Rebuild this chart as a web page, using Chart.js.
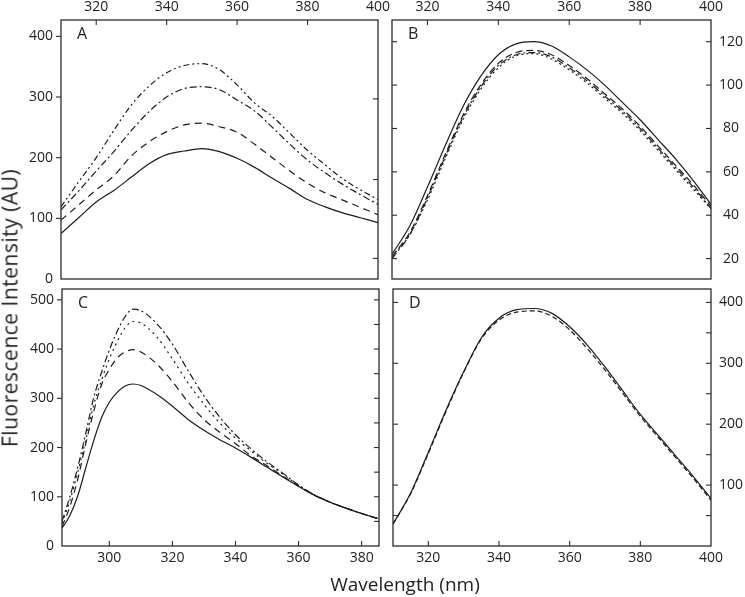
<!DOCTYPE html>
<html><head><meta charset="utf-8">
<script src="https://cdn.jsdelivr.net/npm/chart.js@4/dist/chart.umd.min.js"></script>
<style>
html,body{margin:0;padding:0;background:#fff;}
#wrap{position:relative;width:745px;height:597px;overflow:hidden;background:#fff;}
canvas{position:absolute;left:0;top:0;}
.t{position:absolute;font-family:"Open Sans",sans-serif;font-size:19px;line-height:1;color:#222;white-space:nowrap;}
#yt{left:10px;top:308px;font-size:21px;letter-spacing:0.5px;transform:translate(-50%,-50%) rotate(-90deg);}
#xt{left:405px;top:584px;transform:translate(-50%,-50%);}
</style></head><body>
<div id="wrap">
<canvas id="cA" width="745" height="597"></canvas>
<canvas id="cB" width="745" height="597"></canvas>
<canvas id="cC" width="745" height="597"></canvas>
<canvas id="cD" width="745" height="597"></canvas>
<div class="t" id="yt">Fluorescence Intensity (AU)</div>
<div class="t" id="xt">Wavelength (nm)</div>
</div>
<script>
// ---- data ----
const wlA = [310,315,320,325,330,335,340,345,350,355,360,365,370,375,380,385,390,395,400];
const aSolid      = [75,101,127,146,168,190,205,211,215,210,199,184,166,149,131,119,109,101,93];
const aDash       = [97,122,147,170,203,226,243,254,257,251,242,222,200,178,158,142,130,118,106];
const aDashDot    = [114,145,178,210,245,276,300,314,317,312,295,277,250,222,196,175,156,139,123];
const aDashDotDot = [119,160,200,245,287,318,340,352,355,345,320,290,268,240,212,188,165,147,131];

const wlB = [310,315,320,325,330,335,340,345,350,355,360,365,370,375,380,385,390,395,400];
const bSolid   = [22,35,53,72,90,104,114,119,120,118,113,107,100,92,84,75,66,56,45];
const bDash    = [21,32,49,68,86,100,110,115,116,114,109,103,96,89,81,72,63,54,44];
const bDashDot = [20,31,48,67,85,99,109,114,115,113,108,102,95,88,80,71,62,53,43];
const bDotted  = [21,31,47,66,84,98,108,113.5,114.5,112,107,101,94,87,79,70,61,52,43];

const wlC = [285,287.5,290,292.5,295,297.5,300,302.5,305,307.5,310,315,320,325,330,335,340,345,350,355,360,365,370,375,380,385];
const cSolid   = [36,62,102,158,213,260,292,312,325,329,326,308,284,257,235,216,199,180,160,140,121,103,89,77,66,56];
const cDash    = [39,80,136,207,272,327,359,382,394,399,394,370,334,292,257,231,208,183,163,142,122,103,89,77,66,56];
const cDotted  = [46,92,150,215,285,336,380,415,443,456,453,425,380,331,288,250,219,193,168,146,123,104,89,77,66,56];
const cDashDot = [50,100,160,228,300,352,398,436,466,481,478,452,410,356,305,262,226,197,171,148,124,104,89,77,66,56];

const wlD = [310,315,320,325,330,335,340,345,350,355,360,365,370,375,380,385,390,395,400];
const dSolid = [36,87,154,223,286,342,374,388,390,382,360,330,294,255,216,182,148,114,78];
const dDash  = [36,86,152,221,285,340,371,384,386,377,355,324,289,251,213,179,145,111,75];

// tick label values
const xLabelsAB = [320,340,360,380,400];
const xLabelsC  = [300,320,340,360,380];
const xLabelsD  = [320,340,360,380,400];
const yLabelsA  = [0,100,200,300,400];
const yLabelsB  = [20,40,60,80,100,120];
const yLabelsC  = [0,100,200,300,400,500];
const yLabelsD  = [100,200,300,400];
// tick mark values
const xMarksAB = [320,340,360,380];
const xMarksC  = [300,320,340,360,380];
const xMarksD  = [320,340,360,380];
const yMarksA  = [100,200,300,400];
const yMarksAright = [34,164,297];
const yMarksB  = [20,40,60,80,100,120];
const yMarksCleft = [100,200,300,400,500];
const yMarksCright = [50,100,150,200,250,300,350,400,450,500];
const yMarksDleft = [50,100,200,300,400];
const yMarksDright = [50,100,150,200,250,300,350,400];

// ---- rendering ----
const W = 745, H = 597;
const INK = '#1c1c1c';
const FONT = {family: '"Open Sans"', size: 14};

const framePlugin = {
  id: 'frame',
  afterDraw(chart, args, o) {
    const {ctx, chartArea: a, scales} = chart;
    ctx.save();
    ctx.strokeStyle = '#2b2b2b';
    ctx.lineWidth = 1.3;
    ctx.strokeRect(a.left, a.top, a.right - a.left, a.bottom - a.top);
    ctx.lineWidth = 1.1;
    const L = 5;
    for (const t of o.marks) {
      const sc = scales[t.axis];
      const d = t.out ? -L : L;
      for (const v of t.values) {
        const p = sc.getPixelForValue(v);
        ctx.beginPath();
        if (t.side === 'top') { ctx.moveTo(p, a.top); ctx.lineTo(p, a.top + d); }
        else if (t.side === 'bottom') { ctx.moveTo(p, a.bottom); ctx.lineTo(p, a.bottom - d); }
        else if (t.side === 'left') { ctx.moveTo(a.left, p); ctx.lineTo(a.left + d, p); }
        else { ctx.moveTo(a.right, p); ctx.lineTo(a.right - d, p); }
        ctx.stroke();
      }
    }
    ctx.fillStyle = '#222';
    ctx.font = '16px "Open Sans"';
    ctx.textBaseline = 'alphabetic';
    ctx.fillText(o.letter, a.left + 16, a.top + 19);
    ctx.restore();
  }
};

function ds(xs, ys, dash) {
  return {
    data: xs.map((x, i) => ({x: x, y: ys[i]})),
    borderColor: INK, borderWidth: 1.2, borderDash: dash,
    pointRadius: 0, fill: false, cubicInterpolationMode: 'monotone'
  };
}

function panel(id, box, xs, series, xr, yr, xPos, yPos, xLab, yLab, marks, letter) {
  const [l, t, r, b] = box;
  const pad = {left: l, top: t, right: W - r, bottom: H - b};
  const xSize = xPos === 'top' ? t : H - b;
  const ySize = yPos === 'left' ? l : W - r;
  pad[xPos] = 0;
  pad[yPos] = 0;
  new Chart(document.getElementById(id), {
    type: 'line',
    data: {datasets: series.map(s => ds(xs, s[0], s[1]))},
    plugins: [framePlugin],
    options: {
      responsive: false, animation: false, events: [],
      layout: {padding: pad},
      plugins: {legend: {display: false}, tooltip: {enabled: false}, frame: {marks: marks, letter: letter}},
      scales: {
        x: {
          type: 'linear', position: xPos, min: xr[0], max: xr[1],
          afterBuildTicks: s => { s.ticks = xLab.map(v => ({value: v})); },
          afterFit: s => { s.height = xSize; },
          grid: {display: false, drawTicks: false}, border: {display: false},
          ticks: {font: FONT, color: '#222', padding: xPos === 'top' ? 5 : 4, maxRotation: 0, autoSkip: false, callback: v => String(v)}
        },
        y: {
          type: 'linear', position: yPos, min: yr[0], max: yr[1],
          afterBuildTicks: s => { s.ticks = yLab.map(v => ({value: v})); },
          afterFit: s => { s.width = ySize; },
          grid: {display: false, drawTicks: false}, border: {display: false},
          ticks: {font: FONT, color: '#222', padding: 8, crossAlign: yPos === 'right' ? 'center' : 'near', autoSkip: false, callback: v => String(v)}
        }
      }
    }
  });
}

panel('cA', [61, 20, 378, 279], wlA,
  [[aSolid, []], [aDash, [7, 5]], [aDashDot, [7, 3, 2, 3]], [aDashDotDot, [6, 3, 2, 3, 2, 3]]],
  [310, 400], [0, 427], 'top', 'left', xLabelsAB, yLabelsA,
  [{axis: 'x', side: 'top', values: xMarksAB}, {axis: 'y', side: 'left', values: yMarksA, out: true},
   {axis: 'y', side: 'right', values: yMarksAright}], 'A');

panel('cB', [392, 20, 711, 279], wlB,
  [[bSolid, []], [bDash, [7, 4]], [bDashDot, [7, 3, 2, 3]], [bDotted, [2, 3]]],
  [310, 400], [10.6, 130], 'top', 'right', xLabelsAB, yLabelsB,
  [{axis: 'x', side: 'top', values: xMarksAB}, {axis: 'y', side: 'left', values: yMarksB},
   {axis: 'y', side: 'right', values: yMarksB}], 'B');

panel('cC', [62, 289, 379, 546], wlC,
  [[cSolid, []], [cDash, [7, 5]], [cDotted, [2, 4]], [cDashDot, [7, 3, 2, 3]]],
  [285, 385.5], [0, 522], 'bottom', 'left', xLabelsC, yLabelsC,
  [{axis: 'x', side: 'bottom', values: xMarksC}, {axis: 'y', side: 'left', values: yMarksCleft, out: true},
   {axis: 'y', side: 'right', values: yMarksCright}], 'C');

panel('cD', [393, 289, 711, 546], wlD,
  [[dSolid, []], [dDash, [5, 3]]],
  [310, 400], [0, 422], 'bottom', 'right', xLabelsD, yLabelsD,
  [{axis: 'x', side: 'bottom', values: xMarksD}, {axis: 'y', side: 'left', values: yMarksDleft},
   {axis: 'y', side: 'right', values: yMarksDright}], 'D');
</script>
</body></html>
